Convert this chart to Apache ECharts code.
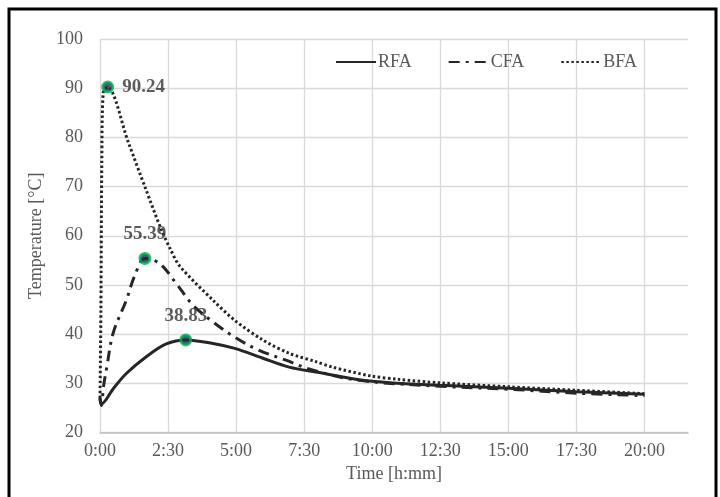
<!DOCTYPE html>
<html>
<head>
<meta charset="utf-8">
<script src="https://cdn.jsdelivr.net/npm/echarts@6/dist/echarts.min.js"></script>
<style>
  html, body { margin: 0; padding: 0; background: #fff; }
  #main { width: 720px; height: 497px; }
</style>
</head>
<body>
<div id="main"></div>
<script>
// time in minutes, temperature in °C
var rfaTime = [0, 3, 30, 58, 102, 146, 189, 249, 297, 359, 417, 476, 600, 750, 900, 1050, 1200];
var rfaTemp = [27.0, 25.8, 29.0, 32.0, 35.4, 38.0, 38.83, 38.1, 37.1, 35.1, 33.3, 32.3, 30.4, 29.6, 29.0, 28.3, 27.8];

var cfaTime = [0, 3, 8, 15, 29, 58, 77, 99, 132, 168, 205, 250, 300, 351, 410, 468, 571, 750, 900, 1050, 1200];
var cfaTemp = [27.0, 25.5, 29.5, 33.3, 40.2, 46.9, 52.0, 55.39, 54.3, 50.3, 45.9, 42.4, 39.2, 36.7, 34.7, 32.7, 30.6, 29.4, 28.8, 28.0, 27.5];

var bfaTime = [0, 2, 4, 7, 17, 62, 100, 134, 155, 176, 249, 297, 359, 417, 476, 512, 597, 659, 748, 899, 1048, 1200];
var bfaTemp = [27.0, 45.0, 75.0, 89.0, 90.24, 79.1, 69.7, 61.5, 57.3, 53.8, 46.9, 42.8, 38.8, 36.1, 34.4, 33.3, 31.5, 30.8, 30.1, 29.3, 28.6, 27.9];

var peakTime = [17, 99, 189];
var peakTemp = [90.24, 55.39, 38.83];
var peakPos = ['right', 'top', 'top'];

var xTicks = ['0:00', '2:30', '5:00', '7:30', '10:00', '12:30', '15:00', '17:30', '20:00'];

function pairs(xs, ys) {
  return xs.map(function (x, i) { return [x, ys[i]]; });
}

var font = 'Liberation Serif';
var lineColor = '#262626';

var chart = echarts.init(document.getElementById('main'));

var option = {
  animation: false,
  textStyle: { fontFamily: font },
  graphic: [{
    type: 'rect',
    shape: { x: 9, y: 9, width: 707, height: 500 },
    style: { fill: 'none', stroke: '#000', lineWidth: 3 },
    silent: true
  }],
  grid: { left: 100, right: 32, top: 39, bottom: 64.5 },
  legend: {
    data: ['RFA', 'CFA', 'BFA'],
    left: 330,
    top: 48,
    itemWidth: 40,
    itemHeight: 16,
    itemGap: 36,
    itemStyle: { opacity: 0 },
    textStyle: { fontFamily: font, fontSize: 18, color: '#595959', padding: [0, 0, 0, -3] }
  },
  xAxis: {
    type: 'value',
    min: 0,
    max: 1296,
    interval: 150,
    name: 'Time [h:mm]',
    nameLocation: 'middle',
    nameGap: 33,
    nameTextStyle: { fontFamily: font, fontSize: 18, color: '#595959' },
    axisLine: { show: true, lineStyle: { color: '#bfbfbf', width: 1.5 } },
    axisTick: { show: false },
    axisLabel: {
      fontFamily: font, fontSize: 18, color: '#595959', margin: 10,
      showMaxLabel: false,
      formatter: function (v) {
        if (v % 150 !== 0) return '';
        return xTicks[v / 150] || '';
      }
    },
    splitLine: {
      show: true,
      lineStyle: {
        color: ['#d9d9d9', '#d9d9d9', '#d9d9d9', '#d9d9d9', '#d9d9d9', '#d9d9d9', '#d9d9d9', '#d9d9d9', '#d9d9d9', 'rgba(0,0,0,0)'],
        width: 1.3
      }
    }
  },
  yAxis: {
    type: 'value',
    min: 20,
    max: 100,
    interval: 10,
    name: 'Temperature [°C]',
    nameLocation: 'middle',
    nameGap: 46,
    nameTextStyle: { fontFamily: font, fontSize: 18, color: '#595959' },
    axisLine: { show: false },
    axisTick: { show: false },
    axisLabel: { fontFamily: font, fontSize: 18, color: '#595959', margin: 17 },
    splitLine: { lineStyle: { color: '#d9d9d9', width: 1.3 } }
  },
  series: [
    {
      name: 'RFA',
      type: 'line',
      data: pairs(rfaTime, rfaTemp),
      showSymbol: false,
      symbol: 'none',
      smooth: 0.35,
      color: lineColor,
      lineStyle: { color: lineColor, width: 3 },
      z: 3
    },
    {
      name: 'CFA',
      type: 'line',
      data: pairs(cfaTime, cfaTemp),
      showSymbol: false,
      symbol: 'none',
      smooth: 0.35,
      color: lineColor,
      lineStyle: { color: lineColor, width: 3, type: [11, 6, 3, 6] },
      z: 3
    },
    {
      name: 'BFA',
      type: 'line',
      data: pairs(bfaTime, bfaTemp),
      showSymbol: false,
      symbol: 'none',
      smooth: 0.3,
      color: lineColor,
      lineStyle: { color: lineColor, width: 3, type: [2.5, 2.5] },
      z: 3
    },
    {
      name: 'Peak',
      type: 'scatter',
      data: peakTime.map(function (t, i) {
        return {
          value: [t, peakTemp[i]],
          label: { position: peakPos[i] }
        };
      }),
      symbol: 'circle',
      symbolSize: 10,
      itemStyle: { color: '#1f2d50', borderColor: '#00b050', borderWidth: 3 },
      label: {
        show: true,
        fontFamily: font,
        fontSize: 19,
        fontWeight: 'bold',
        color: '#333333',
        distance: 8,
        formatter: function (p) { return p.value[1].toFixed(2); }
      },
      z: 5
    }
  ]
};

chart.setOption(option);
</script>
</body>
</html>
